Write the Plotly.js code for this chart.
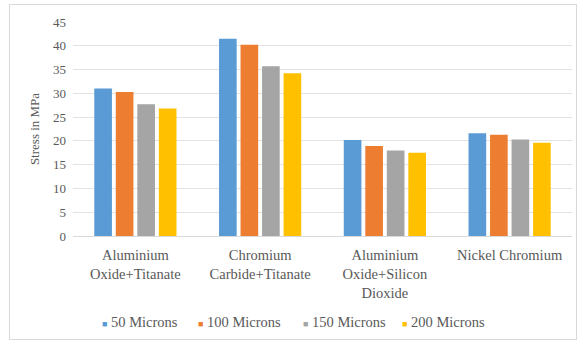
<!DOCTYPE html>
<html>
<head>
<meta charset="utf-8">
<script src="https://cdn.plot.ly/plotly-3.0.1.min.js"></script>
<style>
  html, body { margin: 0; padding: 0; background: #ffffff; }
  #frame {
    position: absolute; left: 9px; top: 4px;
    width: 568px; height: 336px;
    border: 1px solid #d9d9d9; box-sizing: border-box;
  }
  #chart { width: 566px; height: 334px; }
</style>
</head>
<body>
<div id="frame"><div id="chart"></div></div>
<script>
// Coating materials and measured stress (MPa) per coating thickness
const categories = [
  "Aluminium<br>Oxide+Titanate",
  "Chromium<br>Carbide+Titanate",
  "Aluminium<br>Oxide+Silicon<br>Dioxide",
  "Nickel Chromium"
];
const seriesNames = ["50 Microns", "100 Microns", "150 Microns", "200 Microns"];
const microns50  = [31.0, 41.5, 20.2, 21.6];
const microns100 = [30.3, 40.2, 18.9, 21.3];
const microns150 = [27.7, 35.7, 18.0, 20.3];
const microns200 = [26.8, 34.2, 17.5, 19.6];
const yTicks = [0, 5, 10, 15, 20, 25, 30, 35, 40, 45];

const colors = ["#5B9BD5", "#ED7D31", "#A5A5A5", "#FFC000"];
const values = [microns50, microns100, microns150, microns200];

const serif = "'Liberation Serif', 'Times New Roman', serif";
const font = { family: serif, size: 13, color: "#595959" };
const catFont = { family: serif, size: 14.5, color: "#595959" };

const traces = values.map((v, i) => ({
  type: "bar",
  name: seriesNames[i],
  x: categories,
  y: v,
  marker: { color: colors[i] },
  showlegend: false,
  hoverinfo: "x+y"
}));

// Legend row below the axis: small coloured square followed by the series name
const legendX = [0.054, 0.246, 0.457, 0.655];
const legendItems = seriesNames.map((name, i) => ({
  xref: "paper", yref: "paper",
  x: legendX[i], y: -0.40,
  xanchor: "left", yanchor: "middle",
  showarrow: false,
  text: '<span style="color:' + colors[i] + ';font-size:9px">■</span> ' + name,
  font: catFont
}));

const layout = {
  width: 566, height: 334,
  margin: { l: 63, r: 4, t: 17, b: 103, autoexpand: false },
  paper_bgcolor: "#ffffff",
  plot_bgcolor: "#ffffff",
  font: font,
  barmode: "group",
  bargap: 0.31,
  bargroupgap: 0.18,
  showlegend: false,
  annotations: legendItems,
  xaxis: {
    type: "category",
    tickfont: catFont,
    automargin: false,
    ticklabelstandoff: 6,
    showline: true, linecolor: "#d9d9d9", linewidth: 1,
    ticks: "", showgrid: false
  },
  yaxis: {
    range: [0, 45],
    tickvals: yTicks,
    ticktext: yTicks.map(String),
    tickfont: font,
    automargin: false,
    ticklabelstandoff: 6,
    showgrid: true, gridcolor: "#e3e3e3", gridwidth: 1,
    zeroline: false, showline: false, ticks: "",
    title: { text: "Stress in MPa", font: font, standoff: 10 }
  }
};

Plotly.newPlot("chart", traces, layout, { displayModeBar: false, staticPlot: true });
</script>
</body>
</html>
